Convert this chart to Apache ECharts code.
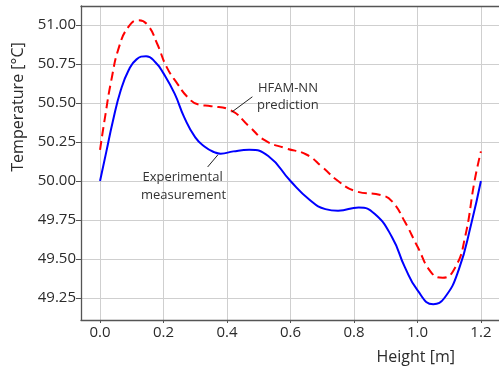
<!DOCTYPE html>
<html><head><meta charset="utf-8">
<script src="https://cdn.jsdelivr.net/npm/echarts@6/dist/echarts.min.js"></script>
<style>html,body{margin:0;padding:0;background:#fff}#c{width:499px;height:369px}</style>
</head><body><div id="c"></div>
<script>
// Experimental measurement (solid blue)
const expX = [0.00,0.02,0.04,0.065,0.09,0.115,0.145,0.175,0.20,0.235,0.265,0.30,0.33,0.36,0.38,0.42,0.47,0.53,0.60,0.66,0.71,0.75,0.815,0.865,0.92,0.96,1.00,1.05,1.085,1.13,1.17,1.20];
const expY = [50.00,50.19,50.38,50.58,50.71,50.78,50.80,50.76,50.69,50.56,50.41,50.28,50.22,50.185,50.175,50.19,50.20,50.16,50.00,49.88,49.82,49.81,49.83,49.79,49.64,49.45,49.30,49.21,49.25,49.43,49.73,50.00];
// HFAM-NN prediction (dashed red)
const predX = [0.00,0.015,0.035,0.06,0.09,0.12,0.15,0.18,0.21,0.245,0.275,0.31,0.35,0.41,0.47,0.52,0.585,0.65,0.70,0.75,0.805,0.885,0.92,0.96,1.00,1.045,1.08,1.12,1.15,1.18,1.20];
const predY = [50.20,50.40,50.64,50.86,50.99,51.03,51.00,50.88,50.73,50.62,50.54,50.49,50.48,50.455,50.35,50.26,50.21,50.17,50.09,50.00,49.935,49.91,49.87,49.74,49.58,49.41,49.38,49.45,49.64,50.00,50.19];
const xTickValues = [0,0.2,0.4,0.6,0.8,1.0,1.2];
const yTickValues = [49.25,49.5,49.75,50,50.25,50.5,50.75,51];
const xTitle = 'Height [m]';
const yTitle = 'Temperature [°C]';
const annPred = ['HFAM-NN','prediction'];
const annExp = ['Experimental','measurement'];

const FONT = 'Open Sans';
const TXT = '#2b2b2b';
const chart = echarts.init(document.getElementById('c'), null, {renderer:'canvas'});
const xMin=-0.06, xMax=1.257, yMin=49.109, yMax=51.122;
const pairs = (xs, ys) => xs.map((x,i)=>[x, ys[i]]);

chart.setOption({
  animation:false,
  backgroundColor:'#fff',
  grid:{left:81, right:-2, top:6, bottom:49, containLabel:false},
  xAxis:[{
    type:'value', min:xMin, max:xMax, splitNumber:6, minInterval:0.2, maxInterval:0.2,
    axisLine:{show:true, onZero:false, lineStyle:{color:'#555', width:1.3}},
    axisTick:{show:true, length:3, customValues:xTickValues, lineStyle:{color:'#555'}},
    axisLabel:{show:true, customValues:xTickValues, margin:5, color:TXT, fontFamily:FONT, fontSize:15,
      formatter:v=>v.toFixed(1)},
    splitLine:{show:true, lineStyle:{color:'#cfcfcf', width:1}}
  },{
    type:'value', position:'top', min:xMin, max:xMax,
    axisLine:{show:true, onZero:false, lineStyle:{color:'#555', width:1.3}},
    axisTick:{show:false}, axisLabel:{show:false}, splitLine:{show:false}
  }],
  yAxis:{
    type:'value', min:yMin, max:yMax, splitNumber:8, minInterval:0.25, maxInterval:0.25,
    axisLine:{show:true, onZero:false, lineStyle:{color:'#555', width:1.3}},
    axisTick:{show:true, length:5, customValues:yTickValues, lineStyle:{color:'#555'}},
    axisLabel:{show:true, customValues:yTickValues, margin:5, color:TXT, fontFamily:FONT, fontSize:15,
      formatter:v=>v.toFixed(2)},
    splitLine:{show:true, lineStyle:{color:'#cfcfcf', width:1}}
  },
  series:[
    {name:'Experimental measurement', type:'line', data:pairs(expX, expY), smooth:0.5, showSymbol:false,
      lineStyle:{color:'#0000ff', width:2}, z:3},
    {name:'HFAM-NN prediction', type:'line', data:pairs(predX, predY), smooth:0.5, showSymbol:false,
      lineStyle:{color:'#ff0000', width:2, type:[9,5]}, z:4}
  ]
});

// annotations anchored in data coordinates
const P = (x,y)=>chart.convertToPixel({gridIndex:0},[x,y]);
const a1 = P(0.592, 50.596), a2 = P(0.592, 50.487);
const l1a = P(0.415, 50.442), l1b = P(0.48, 50.54);
const b1 = P(0.260, 50.026), b2 = P(0.263, 49.91);
const l2a = P(0.339, 50.09), l2b = P(0.371, 50.167);
const ts = (t, p)=>({type:'text', x:p[0], y:p[1], style:{text:t, fill:'#333', font:'13px "Open Sans"', textAlign:'center', textVerticalAlign:'middle'}, z:10});
chart.setOption({graphic:[
  ts(annPred[0], a1), ts(annPred[1], a2),
  ts(annExp[0], b1), ts(annExp[1], b2),
  {type:'line', shape:{x1:l1a[0],y1:l1a[1],x2:l1b[0],y2:l1b[1]}, style:{stroke:'#222', lineWidth:1}, z:10},
  {type:'line', shape:{x1:l2a[0],y1:l2a[1],x2:l2b[0],y2:l2b[1]}, style:{stroke:'#222', lineWidth:1}, z:10},
  {type:'text', x:455, y:357, style:{text:xTitle, fill:TXT, font:'16px "Open Sans"', textAlign:'right', textVerticalAlign:'middle'}},
  {type:'text', x:18, y:107, rotation:Math.PI/2, style:{text:yTitle, fill:TXT, font:'16px "Open Sans"', textAlign:'center', textVerticalAlign:'middle'}}
]});
</script>
</body></html>
